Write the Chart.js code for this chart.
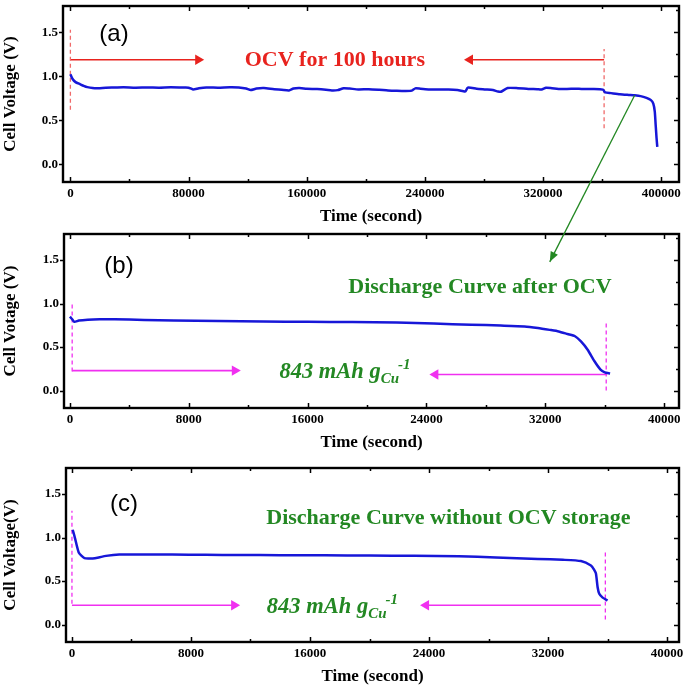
<!DOCTYPE html>
<html>
<head>
<meta charset="utf-8">
<script src="https://cdn.jsdelivr.net/npm/chart.js@4.4.1/dist/chart.umd.min.js"></script>
<style>
  body { margin: 0; background: #fff; }
  #wrap { position: relative; width: 685px; height: 688px; }
  #wrap canvas { position: absolute; left: 0; top: 0; }
</style>
</head>
<body>
<div id="wrap">
  <canvas id="panelA" width="685" height="688"></canvas>
  <canvas id="panelB" width="685" height="688"></canvas>
  <canvas id="panelC" width="685" height="688"></canvas>
</div>
<script>
// ---- (a) OCV for 100 hours, then discharge ----
const timeA = [0, 1500, 3500, 6500, 9000, 11500, 15000, 19000, 24000, 30000,
  36000, 44000, 52000, 60000, 68000, 76000, 80000, 83000, 87000, 92000,
  100000, 108000, 114000, 119000, 122000, 126000, 131000, 138000, 143000, 148000,
  151000, 155000, 160000, 167000, 173000, 177000, 181000, 185000, 189000, 195000,
  202000, 209000, 215000, 221000, 227000, 231000, 233500, 237000, 243000, 250000,
  256000, 262000, 266000, 267500, 269000, 275000, 281000, 286000, 289500, 291500,
  296000, 303000, 310000, 316000, 319000, 322000, 326000, 332000, 339000, 346000,
  353000, 360500, 362000, 366000, 372000, 378000, 382000, 386000, 390000, 393000,
  394600, 395600, 396200, 396800, 397300];
const voltA = [1.025, 0.97, 0.935, 0.912, 0.893, 0.878, 0.868, 0.866, 0.872, 0.874,
  0.877, 0.871, 0.874, 0.872, 0.876, 0.873, 0.872, 0.852, 0.865, 0.874,
  0.872, 0.876, 0.874, 0.862, 0.845, 0.862, 0.868, 0.853, 0.848, 0.84,
  0.862, 0.868, 0.86, 0.856, 0.848, 0.84, 0.844, 0.866, 0.862, 0.852,
  0.855, 0.848, 0.84, 0.836, 0.834, 0.838, 0.864, 0.86, 0.852, 0.85,
  0.852, 0.846, 0.832, 0.83, 0.872, 0.86, 0.852, 0.845, 0.828, 0.826,
  0.868, 0.866, 0.858, 0.855, 0.852, 0.872, 0.866, 0.856, 0.86, 0.858,
  0.856, 0.85, 0.818, 0.81, 0.798, 0.79, 0.785, 0.776, 0.755, 0.73,
  0.69, 0.6, 0.45, 0.3, 0.2];

// ---- (b) discharge after OCV ----
const timeB = [0, 150, 300, 600, 1200, 2000, 3000, 5000, 7000, 10000,
  13000, 16000, 19000, 22000, 24500, 27000, 29000, 30600, 31500, 32300,
  32900, 33500, 34000, 34400, 34850, 35300, 35700, 36000, 36360];
const voltB = [0.85, 0.82, 0.79, 0.805, 0.815, 0.82, 0.82, 0.812, 0.805, 0.8,
  0.795, 0.79, 0.788, 0.782, 0.77, 0.758, 0.748, 0.738, 0.72, 0.698,
  0.68, 0.65, 0.625, 0.565, 0.47, 0.34, 0.245, 0.21, 0.196];

// ---- (c) discharge without OCV storage ----
const timeC = [50, 150, 280, 455, 650, 840, 1100, 1390, 1800, 2290,
  3180, 4500, 6730, 9000, 11220, 14000, 17000, 20000, 23000, 26000,
  28500, 31310, 33000, 34210, 34880, 35100, 35220, 35330, 35440, 35670, 36000];
const voltC = [1.09, 1.03, 0.94, 0.83, 0.79, 0.765, 0.76, 0.76, 0.772, 0.79,
  0.805, 0.805, 0.805, 0.802, 0.8, 0.798, 0.796, 0.795, 0.79, 0.785,
  0.772, 0.755, 0.745, 0.73, 0.68, 0.63, 0.585, 0.43, 0.354, 0.31, 0.277];

// tick labels
const xTicksA = [0, 80000, 160000, 240000, 320000, 400000];
const xTicksBC = [0, 8000, 16000, 24000, 32000, 40000];
const yTicks = [0, 0.5, 1.0, 1.5];

// guide lines [x, yFrom, yTo] and arrows [xFrom, xTo, y]
const guidesA = [[0, 0.62, 1.53], [361300, 0.41, 1.31]];
const arrowsA = [[0, 86500, 1.19], [361300, 270500, 1.19]];
const guidesB = [[150, 0.22, 1.02], [36100, 0.0, 0.8]];
const arrowsB = [[150, 11100, 0.23], [36100, 24600, 0.185]];
const guidesC = [[0, 0.24, 1.31], [35850, 0.06, 0.86]];
const arrowsC = [[0, 10900, 0.223], [35550, 23800, 0.223]];
// green pointer from curve (a) down to the label of (b)
const linkFrom = [382000, 0.785];
const linkTo = [32300, 1.48];

const BLUE = '#1717d8', RED = '#e8231e', MAGENTA = '#f030f0', GREEN = '#238823';
const SERIF = '"Liberation Serif", "Times New Roman", serif';
const SANS = '"Liberation Sans", Arial, sans-serif';

Chart.defaults.color = '#000';
Chart.defaults.font.family = SERIF;

const pts = (xs, ys) => xs.map((x, i) => ({ x: x, y: ys[i] }));

function guideSets(list, color) {
  return list.map(g => ({
    data: [{ x: g[0], y: g[1] }, { x: g[0], y: g[2] }],
    borderColor: color, borderWidth: 1.3, borderDash: [4, 3], pointRadius: 0
  }));
}

function arrowSets(list, color) {
  return list.map(a => ({
    data: [{ x: a[0], y: a[2] }, { x: a[1], y: a[2] }],
    borderColor: color, backgroundColor: color, borderWidth: 1.6,
    pointRadius: [0, 6], pointBorderWidth: 0, pointStyle: 'triangle',
    pointRotation: a[1] > a[0] ? 90 : -90
  }));
}

// frame: inward ticks top/bottom/right with minor ones halfway, outward major ticks on the left
const frame = {
  id: 'frame',
  afterDraw(chart) {
    const { ctx, chartArea: a, scales: { x, y } } = chart;
    const xs = x.ticks.map(t => t.value), ys = y.ticks.map(t => t.value);
    const xStep = (xs[1] - xs[0]) / 2, yStep = (ys[1] - ys[0]) / 2;
    ctx.save();
    ctx.strokeStyle = '#000';
    ctx.lineWidth = 1.5;
    ctx.beginPath();
    for (let k = 0; xs[0] + k * xStep <= x.max; k++) {
      const px = Math.round(x.getPixelForValue(xs[0] + k * xStep)) + 0.5;
      const len = k % 2 ? 3 : 5;
      ctx.moveTo(px, a.bottom); ctx.lineTo(px, a.bottom - len);
      ctx.moveTo(px, a.top); ctx.lineTo(px, a.top + len);
    }
    for (let k = 0; ys[0] + k * yStep <= y.max; k++) {
      const py = Math.round(y.getPixelForValue(ys[0] + k * yStep)) + 0.5;
      if (k % 2 === 0) { ctx.moveTo(a.left, py); ctx.lineTo(a.left - 4, py); }
      ctx.moveTo(a.right, py); ctx.lineTo(a.right - (k % 2 ? 3 : 5), py);
    }
    ctx.stroke();
    ctx.lineWidth = 2.4;
    ctx.strokeRect(a.left, a.top, a.right - a.left, a.bottom - a.top);
    ctx.restore();
  }
};

function note(chart, x, y, text, font, color) {
  const { ctx, scales } = chart;
  ctx.save();
  ctx.font = font;
  ctx.fillStyle = color;
  ctx.textAlign = 'center';
  ctx.textBaseline = 'middle';
  ctx.fillText(text, scales.x.getPixelForValue(x), scales.y.getPixelForValue(y));
  ctx.restore();
}

// "843 mAh g_Cu^-1", x = left edge, y = baseline
function capacity(chart, x, y) {
  const { ctx, scales } = chart;
  let px = scales.x.getPixelForValue(x);
  const py = scales.y.getPixelForValue(y);
  ctx.save();
  ctx.fillStyle = GREEN;
  ctx.textAlign = 'left';
  ctx.textBaseline = 'alphabetic';
  ctx.font = 'italic bold 22.5px ' + SERIF;
  ctx.fillText('843 mAh g', px, py);
  px += ctx.measureText('843 mAh g').width;
  ctx.font = 'italic bold 15px ' + SERIF;
  ctx.fillText('Cu', px, py + 5);
  px += ctx.measureText('Cu').width - 1;
  ctx.fillText('-1', px, py - 9);
  ctx.restore();
}

function makeOptions(box, xRange, xTicks, yTitle) {
  return {
    responsive: false,
    animation: false,
    events: [],
    layout: { padding: { left: 0, top: box.top, right: 685 - box.right, bottom: 688 - box.bottom - box.xh } },
    plugins: { legend: { display: false }, tooltip: { enabled: false } },
    scales: {
      x: {
        type: 'linear', min: xRange[0], max: xRange[1],
        afterBuildTicks: s => { s.ticks = xTicks.map(v => ({ value: v })); },
        afterFit: s => { s.height = box.xh; s.paddingLeft = 0; s.paddingRight = 0; },
        ticks: { callback: v => String(v), font: { size: 13, weight: 'bold' }, padding: 4, maxRotation: 0, autoSkip: false },
        grid: { display: false, drawTicks: false },
        border: { display: false },
        title: { display: true, text: 'Time (second)', font: { size: 17, weight: 'bold' }, padding: { top: 0, bottom: 0 } }
      },
      y: {
        min: -0.2, max: 1.8,
        afterBuildTicks: s => { s.ticks = yTicks.map(v => ({ value: v })); },
        afterFit: s => { s.width = box.left; s.paddingTop = 0; s.paddingBottom = 0; },
        ticks: { callback: v => v.toFixed(1), font: { size: 13, weight: 'bold' }, padding: 5 },
        grid: { display: false, drawTicks: false },
        border: { display: false },
        title: { display: true, text: yTitle, font: { size: 17, weight: 'bold' }, padding: { top: 0, bottom: 0 } }
      }
    }
  };
}

const curveStyle = { borderColor: BLUE, borderWidth: 2.5, pointRadius: 0, tension: 0.2 };

// ---------------- (a) ----------------
const chartA = new Chart(document.getElementById('panelA'), {
  type: 'line',
  data: {
    datasets: [Object.assign({ data: pts(timeA, voltA) }, curveStyle)]
      .concat(guideSets(guidesA, '#f06a6a'), arrowSets(arrowsA, RED))
  },
  options: makeOptions({ left: 63, top: 4, right: 681, bottom: 182, xh: 45 }, [-5000, 412000], xTicksA, 'Cell Voltage (V)'),
  plugins: [frame, {
    id: 'notesA',
    afterDatasetsDraw(chart) {
      note(chart, 29500, 1.48, '(a)', '24px ' + SANS, '#000');
      note(chart, 179000, 1.18, 'OCV for 100 hours', 'bold 22px ' + SERIF, RED);
    }
  }]
});

// ---------------- (b) ----------------
const chartB = new Chart(document.getElementById('panelB'), {
  type: 'line',
  data: {
    datasets: [Object.assign({ data: pts(timeB, voltB) }, curveStyle)]
      .concat(guideSets(guidesB, MAGENTA), arrowSets(arrowsB, MAGENTA))
  },
  options: makeOptions({ left: 64, top: 234, right: 681, bottom: 408, xh: 45 }, [-400, 41000], xTicksBC, 'Cell Votage (V)'),
  plugins: [frame, {
    id: 'notesB',
    afterDatasetsDraw(chart) {
      note(chart, 3300, 1.43, '(b)', '24px ' + SANS, '#000');
      note(chart, 27600, 1.19, 'Discharge Curve after OCV', 'bold 22px ' + SERIF, GREEN);
      capacity(chart, 14100, 0.15);
    },
    afterDraw(chart) {
      // pointer from the discharge part of (a) to this panel
      const ctx = chart.ctx;
      const x0 = chartA.scales.x.getPixelForValue(linkFrom[0]);
      const y0 = chartA.scales.y.getPixelForValue(linkFrom[1]);
      const x1 = chart.scales.x.getPixelForValue(linkTo[0]);
      const y1 = chart.scales.y.getPixelForValue(linkTo[1]);
      const ang = Math.atan2(y1 - y0, x1 - x0);
      ctx.save();
      ctx.strokeStyle = GREEN; ctx.fillStyle = GREEN; ctx.lineWidth = 1.3;
      ctx.beginPath(); ctx.moveTo(x0, y0); ctx.lineTo(x1, y1); ctx.stroke();
      ctx.beginPath();
      ctx.moveTo(x1, y1);
      ctx.lineTo(x1 - 10 * Math.cos(ang) + 4 * Math.sin(ang), y1 - 10 * Math.sin(ang) - 4 * Math.cos(ang));
      ctx.lineTo(x1 - 10 * Math.cos(ang) - 4 * Math.sin(ang), y1 - 10 * Math.sin(ang) + 4 * Math.cos(ang));
      ctx.closePath(); ctx.fill();
      ctx.restore();
    }
  }]
});

// ---------------- (c) ----------------
const chartC = new Chart(document.getElementById('panelC'), {
  type: 'line',
  data: {
    datasets: [Object.assign({ data: pts(timeC, voltC) }, curveStyle)]
      .concat(guideSets(guidesC, MAGENTA), arrowSets(arrowsC, MAGENTA))
  },
  options: makeOptions({ left: 66, top: 468, right: 681, bottom: 642, xh: 45 }, [-400, 40800], xTicksBC, 'Cell Voltage(V)'),
  plugins: [frame, {
    id: 'notesC',
    afterDatasetsDraw(chart) {
      note(chart, 3500, 1.38, '(c)', '24px ' + SANS, '#000');
      note(chart, 25300, 1.22, 'Discharge Curve without OCV storage', 'bold 22px ' + SERIF, GREEN);
      capacity(chart, 13100, 0.13);
    }
  }]
});
</script>
</body>
</html>
